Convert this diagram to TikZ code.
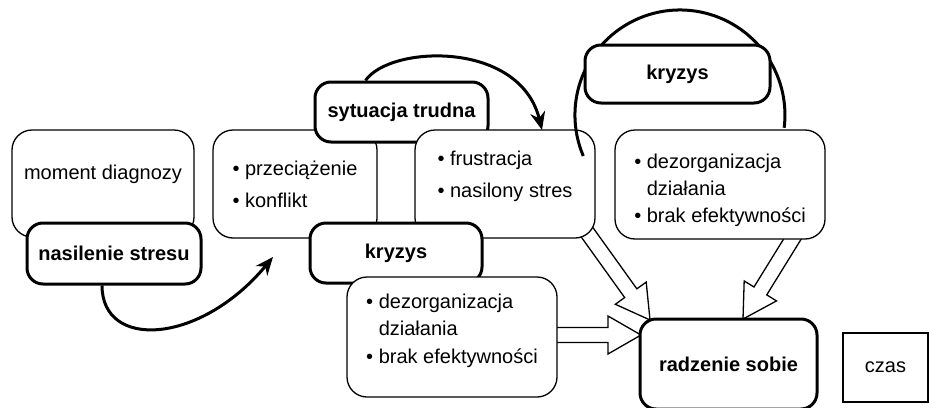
\documentclass[tikz,border=0pt]{standalone}
\usepackage{fontspec}
\setmainfont{Liberation Sans}
\usetikzlibrary{arrows.meta, calc, positioning}
\pgfdeclarelayer{background}
\pgfsetlayers{background,main}

% open block arrow: #1 tail, #2 tip
\newcommand{\hollowarrow}[2]{%
  \coordinate (hbase) at ($(#2)!33pt!(#1)$);
  \filldraw[hollow] ($(#1)!7.5pt!90:(#2)$) -- ($(hbase)!7.5pt!-90:(#1)$)
    -- ($(hbase)!19pt!-90:(#1)$) -- (#2) -- ($(hbase)!19pt!90:(#1)$)
    -- ($(hbase)!7.5pt!90:(#1)$) -- ($(#1)!7.5pt!-90:(#2)$) -- cycle;
}

\begin{document}
\begin{tikzpicture}[
    x=1pt, y=1pt,
    every node/.style={font=\fontsize{20}{24}\selectfont},
    thinbox/.style={rectangle, draw, fill=white, line width=1.3pt, rounded corners=20pt},
    listbox/.style={thinbox, align=left},
    thickbox/.style={rectangle, draw, fill=white, line width=3pt, rounded corners=16pt,
        font=\fontsize{20}{24}\selectfont\bfseries},
    flow/.style={line width=3pt, -{Stealth[length=18pt, width=15pt]}},
    hollow/.style={draw, fill=white, line width=1.3pt, line join=miter}
]
\useasboundingbox (0,0) rectangle (929,-407);

% left part
\node[thinbox, minimum width=182pt, minimum height=107pt, text depth=23pt] (diagnosis) at (103,-183.5) {moment diagnozy};
\node[thickbox, minimum width=174pt, minimum height=61pt] (stress) at (114,-253.5) {nasilenie stresu};

% middle part
\node[listbox, minimum width=164pt, minimum height=108pt] (load) at (295,-184)
    {\textbullet\ przeciążenie\\[8pt]\textbullet\ konflikt};
\node[thickbox, minimum width=173pt, minimum height=60pt] (situation) at (401.5,-112) {sytuacja trudna};
\node[listbox, minimum width=180pt, minimum height=108pt] (frustration) at (505,-184)
    {\textbullet\ frustracja\\[8pt]\textbullet\ nasilony stres\rule[-20pt]{0pt}{20pt}};
\node[thickbox, minimum width=172pt, minimum height=60pt] (crisis) at (396,-253) {kryzys};
\node[listbox, minimum width=210pt, minimum height=120pt] (disorgA) at (452,-337)
    {\textbullet\ dezorganizacja\\[3.5pt]\phantom{\textbullet}\ działania\\[3.5pt]\textbullet\ brak efektywności\rule[-17pt]{0pt}{17pt}};

% right part
\node[thickbox, minimum width=177pt, minimum height=90pt] (coping) at (728.5,-364) {radzenie sobie};
\node[rectangle, draw, line width=1.3pt, minimum width=85pt, minimum height=69pt] (timebox) at (885.5,-367.5) {czas};
\node[listbox, minimum width=210pt, minimum height=109pt] (disorgB) at (720,-184.5)
    {\rule{0pt}{27pt}\textbullet\ dezorganizacja\\[3pt]\phantom{\textbullet}\ działania\\[3pt]\textbullet\ brak efektywności};

% loop round the upper crisis
\coordinate (loopstart) at (583.3,-156);
\draw[line width=3pt] (loopstart) arc[start angle=203, end angle=-7, radius=105];
\node[thickbox, minimum width=185pt, minimum height=58pt] (crisistop) at (677.5,-74) {kryzys};

% curved arrows
\coordinate (loadtip) at (273,-257);
\coordinate (frusttip) at (542,-130);
\draw[flow] ([xshift=-12pt]stress.south) .. controls (102,-350) and (200,-345) .. (loadtip);
\draw[flow] ([xshift=-36pt]situation.north) .. controls (390,-45) and (520,-40) .. (frusttip);

% block arrows into coping
\coordinate (frusttail) at (584,-228);
\coordinate (copingtipA) at (650,-320);
\coordinate (disorgAtail) at (545,-335);
\coordinate (copingtipB) at (641,-335);
\coordinate (disorgBtail) at (798,-230);
\coordinate (copingtipC) at (743,-319);
\begin{pgfonlayer}{background}
  \hollowarrow{frusttail}{copingtipA}
  \hollowarrow{disorgAtail}{copingtipB}
  \hollowarrow{disorgBtail}{copingtipC}
\end{pgfonlayer}

\end{tikzpicture}
\end{document}
